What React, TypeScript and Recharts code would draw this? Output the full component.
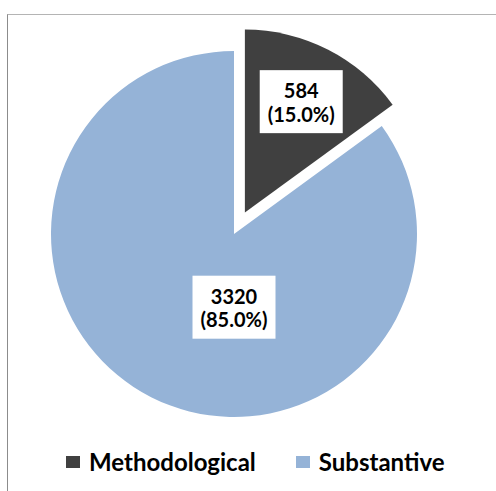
import { PieChart, Pie, Cell, Legend } from "recharts";

const categories = ["Methodological", "Substantive"];
const counts = [584, 3320];
const percentLabels = ["15.0%", "85.0%"];

const COLORS = ["#404040", "#95b3d7"];
const FONT = "Lato, 'Liberation Sans', sans-serif";
const RADIAN = Math.PI / 180;

const W = 496;
const H = 491;
const CX = 229;
const CY = 229;
const R = 183;
const EXPLODE = 24;

const data = categories.map((name, i) => ({
  name,
  value: counts[i],
  pct: percentLabels[i],
}));

// midpoint of the first slice (clockwise from 12 o'clock)
const total = counts.reduce((a, b) => a + b, 0);
const firstMid = 90 - (360 * counts[0]) / total / 2;
const offX = EXPLODE * Math.cos(firstMid * RADIAN);
const offY = -EXPLODE * Math.sin(firstMid * RADIAN);

function LabelBox({ x, y, value, pct }: { x: number; y: number; value: number; pct: string }) {
  const bw = 83;
  const bh = 63;
  return (
    <g>
      <rect x={x - bw / 2} y={y - bh / 2} width={bw} height={bh} fill="#ffffff" />
      <text
        x={x}
        y={y - 11.5}
        textAnchor="middle"
        dominantBaseline="central"
        fontFamily={FONT}
        fontWeight={700}
        fontSize={20}
        fill="#000"
      >
        {value}
      </text>
      <text
        x={x}
        y={y + 12}
        textAnchor="middle"
        dominantBaseline="central"
        fontFamily={FONT}
        fontWeight={700}
        fontSize={20}
        fill="#000"
      >
        ({pct})
      </text>
    </g>
  );
}

const renderLabel = (which: number) => (props: any) => {
  const { cx, cy, midAngle, outerRadius, index, value, payload } = props;
  if (index !== which) return null;
  let x: number;
  let y: number;
  if (which === 0) {
    const rr = outerRadius * 0.68;
    x = cx + rr * Math.cos(-midAngle * RADIAN);
    y = cy + rr * Math.sin(-midAngle * RADIAN);
  } else {
    x = cx;
    y = cy + outerRadius * 0.4;
  }
  return <LabelBox x={x} y={y} value={value} pct={payload.pct} />;
};

const renderLegend = () => (
  <div style={{ display: "flex", alignItems: "center", paddingLeft: 66, fontFamily: FONT }}>
    {categories.map((c, i) => (
      <div key={c} style={{ display: "flex", alignItems: "center", marginRight: 40 }}>
        <span style={{ width: 14, height: 12, background: COLORS[i], display: "inline-block", marginRight: 9 }} />
        <span style={{ fontSize: 24, fontWeight: 700, color: "#000" }}>{c}</span>
      </div>
    ))}
  </div>
);

export default function App() {
  return (
    <div
      style={{
        position: "fixed",
        left: 0,
        top: 0,
        width: W,
        height: H,
        overflow: "hidden",
        background: "#fff",
      }}
    >
      <div
        style={{
          position: "absolute",
          left: 7,
          top: 14,
          width: 600,
          height: 600,
          borderLeft: "1.5px solid #8c8c8c",
          borderTop: "1.5px solid #b4b4b4",
        }}
      />
      <PieChart width={W} height={H} style={{ position: "absolute", left: 0, top: 0 }}>
        <Pie
          data={data}
          dataKey="value"
          cx={CX + offX}
          cy={CY + offY}
          outerRadius={R}
          startAngle={90}
          endAngle={-270}
          labelLine={false}
          label={renderLabel(0)}
          isAnimationActive={false}
        >
          {data.map((d, i) => (
            <Cell key={d.name} fill={i === 0 ? COLORS[0] : "transparent"} stroke="none" />
          ))}
        </Pie>
        <Pie
          data={data}
          dataKey="value"
          cx={CX}
          cy={CY}
          outerRadius={R}
          startAngle={90}
          endAngle={-270}
          labelLine={false}
          label={renderLabel(1)}
          isAnimationActive={false}
        >
          {data.map((d, i) => (
            <Cell key={d.name} fill={i === 1 ? COLORS[1] : "transparent"} stroke="none" />
          ))}
        </Pie>
        <Legend
          content={renderLegend}
          wrapperStyle={{ position: "absolute", top: 447, left: 0, width: W }}
        />
      </PieChart>
    </div>
  );
}
